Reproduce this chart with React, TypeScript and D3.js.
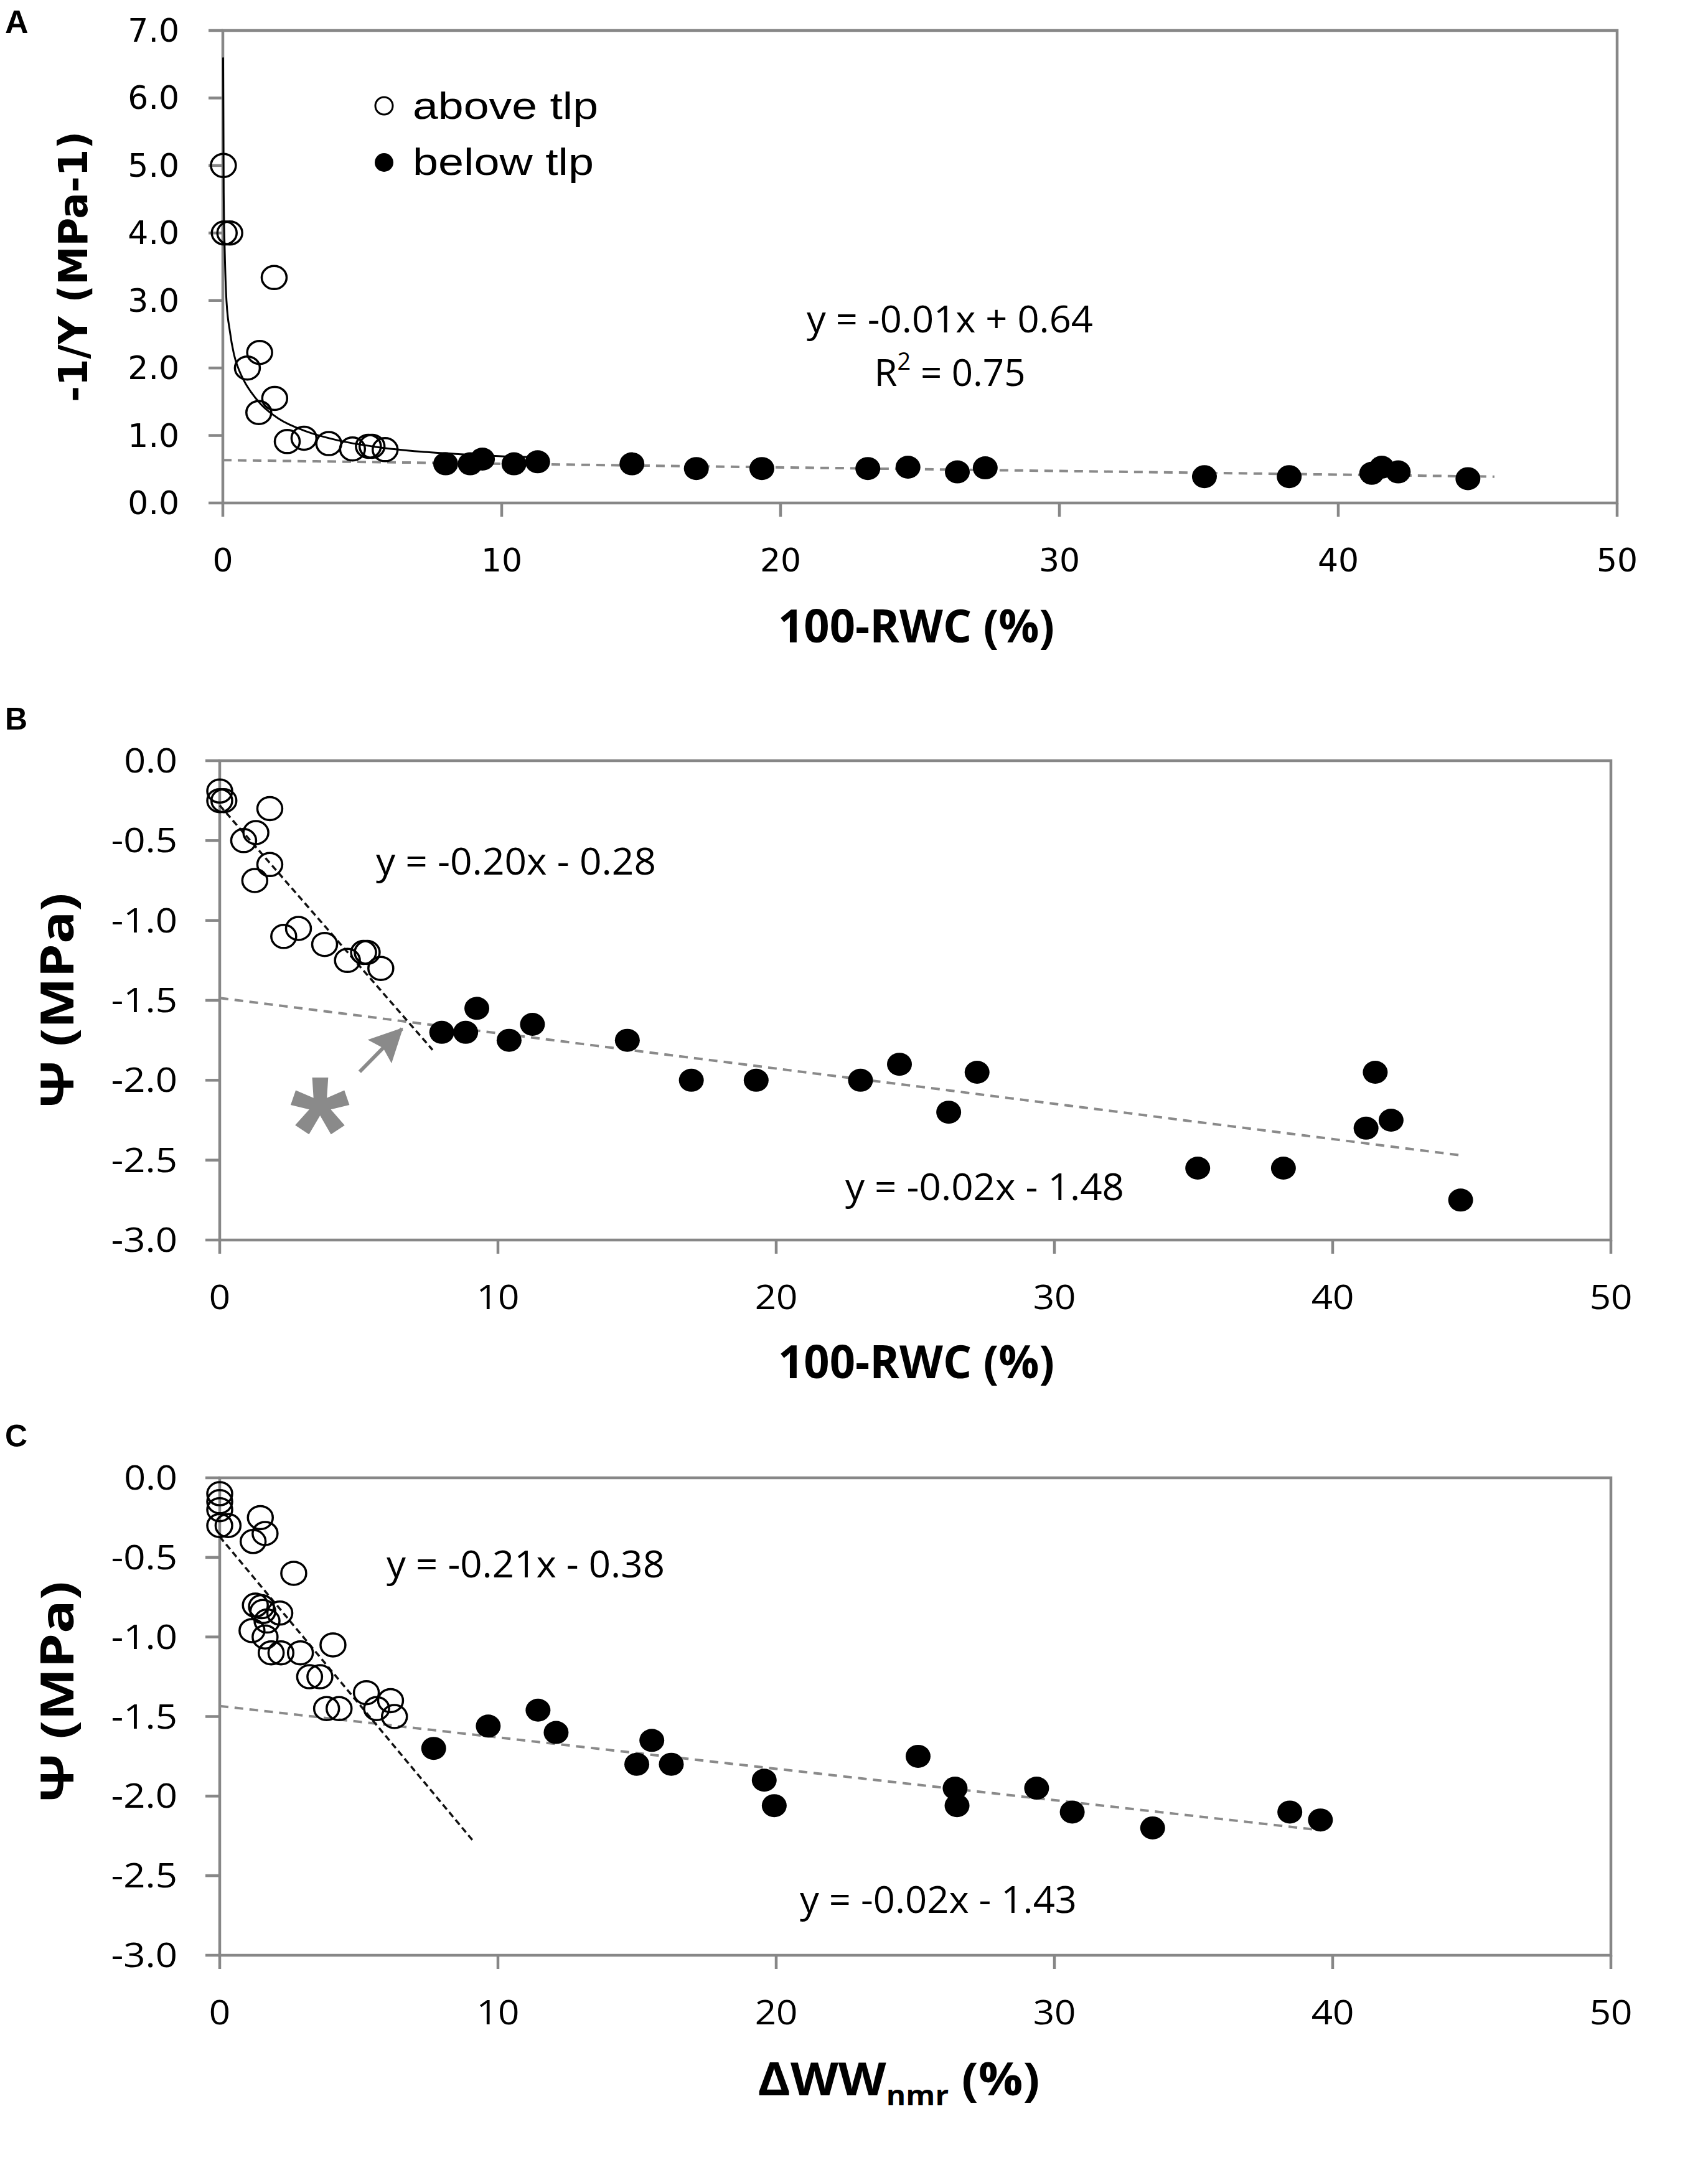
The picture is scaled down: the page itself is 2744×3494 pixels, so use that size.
import * as d3 from "d3";

type Pt = [number, number];
type Box = { l: number; r: number; t: number; b: number };

// ---- Panel A: -1/Y vs 100-RWC ----
const aboveA: Pt[] = [
  [0.02, 5.0], [0.05, 4.0], [0.25, 4.0], [1.84, 3.34], [1.32, 2.23],
  [0.88, 2.0], [1.86, 1.55], [1.29, 1.34], [2.31, 0.91], [2.91, 0.96],
  [3.8, 0.88], [4.65, 0.8], [5.22, 0.84], [5.35, 0.84], [5.82, 0.79],
];
const belowA: Pt[] = [
  [7.99, 0.58], [8.87, 0.58], [9.31, 0.65], [10.44, 0.58], [11.29, 0.61],
  [14.67, 0.58], [16.98, 0.51], [19.33, 0.51], [23.13, 0.51], [24.57, 0.53],
  [26.34, 0.46], [27.34, 0.52], [35.2, 0.39], [38.24, 0.39], [41.2, 0.44],
  [41.56, 0.53], [42.15, 0.46], [44.65, 0.36],
];
const curveA: Pt[] = [
  [0.01, 6.6], [0.03, 4.6], [0.07, 3.7], [0.13, 3.0], [0.25, 2.55],
  [0.4, 2.2], [0.6, 1.95], [0.8, 1.78], [1.0, 1.65], [1.37, 1.46],
  [2.0, 1.25], [3.0, 1.06], [4.1, 0.93], [5.5, 0.83], [7.1, 0.76],
  [8.65, 0.72], [10.1, 0.69], [11.0, 0.68],
];
const trendA: Pt[] = [[0, 0.635], [45.6, 0.39]];

// ---- Panel B: Psi vs 100-RWC ----
const aboveB: Pt[] = [
  [0.0, -0.19], [0.0, -0.25], [0.15, -0.25], [1.8, -0.3], [0.86, -0.5],
  [1.3, -0.45], [1.8, -0.65], [1.26, -0.75], [2.3, -1.1], [2.83, -1.05],
  [3.77, -1.15], [4.59, -1.25], [5.17, -1.2], [5.3, -1.2], [5.79, -1.3],
];
const belowB: Pt[] = [
  [7.98, -1.7], [8.84, -1.7], [9.24, -1.55], [10.4, -1.75], [11.24, -1.65],
  [14.65, -1.75], [16.95, -2.0], [19.28, -2.0], [23.03, -2.0], [24.43, -1.9],
  [26.2, -2.2], [27.22, -1.95], [35.15, -2.55], [38.23, -2.55], [41.2, -2.3],
  [41.53, -1.95], [42.1, -2.25], [44.6, -2.75],
];
const trendAboveB: Pt[] = [[0, -0.28], [7.65, -1.81]];
const trendBelowB: Pt[] = [[0, -1.485], [44.6, -2.47]];
const arrowB: Pt[] = [[5.03, -1.947], [6.55, -1.678]];
const starB: Pt = [3.6, -2.165];

// ---- Panel C: Psi vs dWW_nmr ----
const aboveC: Pt[] = [
  [0, -0.1], [0, -0.15], [0, -0.2], [0, -0.3], [0.3, -0.3],
  [1.46, -0.25], [1.2, -0.4], [1.63, -0.35], [2.66, -0.6], [1.28, -0.8],
  [1.5, -0.81], [1.55, -0.84], [2.16, -0.85], [1.7, -0.9], [1.16, -0.96],
  [1.63, -1.0], [1.85, -1.1], [2.2, -1.1], [2.9, -1.1], [4.07, -1.05],
  [3.23, -1.25], [3.6, -1.25], [3.84, -1.45], [4.29, -1.45], [5.27, -1.35],
  [5.64, -1.45], [6.14, -1.4], [6.28, -1.5],
];
const belowC: Pt[] = [
  [7.69, -1.7], [9.65, -1.56], [11.44, -1.46], [12.09, -1.6], [14.99, -1.8],
  [15.53, -1.65], [16.23, -1.8], [19.57, -1.9], [19.93, -2.06], [25.1, -1.75],
  [26.43, -1.95], [26.5, -2.06], [29.36, -1.95], [30.64, -2.1], [33.53, -2.2],
  [38.46, -2.1], [39.56, -2.15],
];
const trendAboveC: Pt[] = [[0, -0.37], [9.1, -2.28]];
const trendBelowC: Pt[] = [[0, -1.434], [39.6, -2.215]];

const xTicks = [0, 10, 20, 30, 40, 50];
const yTicksA = [0, 1, 2, 3, 4, 5, 6, 7];
const yTicksBC = [0, -0.5, -1, -1.5, -2, -2.5, -3];

const FRAME = "#878787";
const GREY = "#8a8a8a";
const CAL = "'Open Sans', sans-serif";

// rough Calibri advance widths (em) so the substitute font gets the same length
const CAL_W: Record<string, number> = {
  "0": 0.507, "1": 0.507, "2": 0.507, "3": 0.507, "4": 0.507, "5": 0.507,
  "6": 0.507, "7": 0.507, "8": 0.507, "9": 0.507, ".": 0.252, "-": 0.306, " ": 0.226,
};
const calWidth = (s: string) => [...s].reduce((a, c) => a + (CAL_W[c] ?? 0.5), 0);

function Frame({ box, x, y, yTicks }: { box: Box; x: any; y: any; yTicks: number[] }) {
  return (
    <g stroke={FRAME} strokeWidth={4.5}>
      <rect x={box.l} y={box.t} width={box.r - box.l} height={box.b - box.t} fill="none" />
      {xTicks.map((t) => (
        <line key={"x" + t} x1={x(t)} x2={x(t)} y1={box.b} y2={box.b + 22} />
      ))}
      {yTicks.map((t) => (
        <line key={"y" + t} x1={box.l - 23} x2={box.l} y1={y(t)} y2={y(t)} />
      ))}
    </g>
  );
}

function Points({ data, x, y, filled }: { data: Pt[]; x: any; y: any; filled: boolean }) {
  return (
    <g>
      {data.map((d, i) => (
        <ellipse
          key={i}
          cx={x(d[0])}
          cy={y(d[1])}
          rx={20}
          ry={18.5}
          fill={filled ? "#000" : "none"}
          stroke="#000"
          strokeWidth={filled ? 0 : 3.5}
        />
      ))}
    </g>
  );
}

function CalTicks({ box, x, y, yTicks }: { box: Box; x: any; y: any; yTicks: number[] }) {
  const fmt = d3.format(".1f");
  return (
    <g fontFamily={CAL} fontSize={54} fill="#000">
      {yTicks.map((t) => {
        const s = fmt(t).replace("−", "-");
        return (
          <text key={"y" + t} x={285} y={y(t) + 19} textAnchor="end"
            textLength={calWidth(s) * 60 * 1.13} lengthAdjust="spacingAndGlyphs">{s}</text>
        );
      })}
      {xTicks.map((t) => (
        <text key={"x" + t} x={x(t)} y={box.b + 111} textAnchor="middle"
          textLength={calWidth(String(t)) * 60 * 1.13} lengthAdjust="spacingAndGlyphs">{t}</text>
      ))}
    </g>
  );
}

export default function App() {
  const A: Box = { l: 358, r: 2598, t: 49, b: 808 };
  const B: Box = { l: 353, r: 2588, t: 1222, b: 1992 };
  const C: Box = { l: 353, r: 2588, t: 2374, b: 3141 };

  const xA = d3.scaleLinear().domain([0, 50]).range([A.l, A.r]);
  const yA = d3.scaleLinear().domain([0, 7]).range([A.b, A.t]);
  const xB = d3.scaleLinear().domain([0, 50]).range([B.l, B.r]);
  const yB = d3.scaleLinear().domain([-3, 0]).range([B.b, B.t]);
  const xC = d3.scaleLinear().domain([0, 50]).range([C.l, C.r]);
  const yC = d3.scaleLinear().domain([-3, 0]).range([C.b, C.t]);

  const lineOf = (x: any, y: any, curve = d3.curveLinear) =>
    d3.line<Pt>().x((d) => x(d[0])).y((d) => y(d[1])).curve(curve);

  const fmtA = d3.format(".1f");

  return (
    <div style={{ position: "absolute", left: 0, top: 0 }}>
      <svg width={2744} height={3494} viewBox="0 0 2744 3494" style={{ display: "block", background: "#fff" }}>
        <defs>
          <marker id="arrowhead" viewBox="0 0 10 10" refX={9.5} refY={5} markerWidth={54} markerHeight={54}
            markerUnits="userSpaceOnUse" orient="auto">
            <path d="M0,0 L10,5 L0,10 L1.5,5 z" fill={GREY} />
          </marker>
        </defs>
        <rect width={2744} height={3494} fill="#fff" />

        {/* ---------- Panel A ---------- */}
        <text x={8} y={53} fontFamily="'Liberation Sans', Arial, sans-serif" fontWeight="bold" fontSize={52}>A</text>
        <Frame box={A} x={xA} y={yA} yTicks={yTicksA} />
        <g fontFamily="'DejaVu Sans', Verdana, sans-serif" fontSize={52} fill="#000">
          {yTicksA.map((t) => (
            <text key={t} x={288} y={yA(t) + 18} textAnchor="end">{fmtA(t)}</text>
          ))}
          {xTicks.map((t) => (
            <text key={t} x={xA(t)} y={A.b + 110} textAnchor="middle">{t}</text>
          ))}
        </g>
        <path d={lineOf(xA, yA)(trendA) ?? ""} fill="none" stroke={GREY} strokeWidth={4} strokeDasharray="14 10" />
        <path d={lineOf(xA, yA, d3.curveMonotoneX)(curveA) ?? ""} fill="none" stroke="#000" strokeWidth={3} />
        <Points data={aboveA} x={xA} y={yA} filled={false} />
        <Points data={belowA} x={xA} y={yA} filled />
        {/* legend */}
        <ellipse cx={617} cy={170} rx={14} ry={14} fill="none" stroke="#000" strokeWidth={3} />
        <ellipse cx={617} cy={261} rx={15} ry={15} fill="#000" />
        <g fontFamily="'Liberation Sans', Arial, sans-serif" fontSize={62}>
          <text x={663} y={191} textLength={298} lengthAdjust="spacingAndGlyphs">above tlp</text>
          <text x={663} y={281} textLength={291} lengthAdjust="spacingAndGlyphs">below tlp</text>
        </g>
        <g fontFamily={CAL} fontSize={60} textAnchor="middle">
          <text x={1526} y={534} textLength={460} lengthAdjust="spacingAndGlyphs">y = -0.01x + 0.64</text>
          <text x={1526} y={620}>
            R<tspan fontSize={38} dy={-26}>2</tspan>
            <tspan dy={26}> = 0.75</tspan>
          </text>
        </g>
        <text x={1472} y={1032} textAnchor="middle" fontFamily={CAL} fontWeight="bold" fontSize={73}
          textLength={444} lengthAdjust="spacingAndGlyphs">100-RWC (%)</text>
        <text transform={`translate(140,${(A.t + A.b) / 2}) rotate(-90)`} textAnchor="middle"
          fontFamily="'DejaVu Sans', Verdana, sans-serif" fontWeight="bold" fontSize={64}
          textLength={435} lengthAdjust="spacingAndGlyphs">-1/Y (MPa-1)</text>

        {/* ---------- Panel B ---------- */}
        <text x={8} y={1172} fontFamily="'Liberation Sans', Arial, sans-serif" fontWeight="bold" fontSize={50}>B</text>
        <Frame box={B} x={xB} y={yB} yTicks={yTicksBC} />
        <CalTicks box={B} x={xB} y={yB} yTicks={yTicksBC} />
        <path d={lineOf(xB, yB)(trendBelowB) ?? ""} fill="none" stroke={GREY} strokeWidth={4} strokeDasharray="14 10" />
        <path d={lineOf(xB, yB)(trendAboveB) ?? ""} fill="none" stroke="#111" strokeWidth={3.5} strokeDasharray="10 6" />
        <Points data={aboveB} x={xB} y={yB} filled={false} />
        <Points data={belowB} x={xB} y={yB} filled />
        <path d={lineOf(xB, yB)(arrowB) ?? ""} fill="none" stroke={GREY} strokeWidth={6} markerEnd="url(#arrowhead)" />
        <text x={xB(starB[0])} y={yB(starB[1]) + 122} textAnchor="middle"
          fontFamily="'Liberation Sans', Arial, sans-serif" fontWeight="bold" fontSize={245} fill={GREY}>*</text>
        <g fontFamily={CAL} fontSize={60}>
          <text x={604} y={1405} textLength={450} lengthAdjust="spacingAndGlyphs">y = -0.20x - 0.28</text>
          <text x={1358} y={1928} textLength={448} lengthAdjust="spacingAndGlyphs">y = -0.02x - 1.48</text>
        </g>
        <text x={1472} y={2214} textAnchor="middle" fontFamily={CAL} fontWeight="bold" fontSize={73}
          textLength={444} lengthAdjust="spacingAndGlyphs">100-RWC (%)</text>
        <text transform={`translate(118,${(B.t + B.b) / 2}) rotate(-90)`} textAnchor="middle"
          fontFamily={CAL} fontWeight="bold" fontSize={73}
          textLength={345} lengthAdjust="spacingAndGlyphs">Ψ (MPa)</text>

        {/* ---------- Panel C ---------- */}
        <text x={8} y={2324} fontFamily="'Liberation Sans', Arial, sans-serif" fontWeight="bold" fontSize={50}>C</text>
        <Frame box={C} x={xC} y={yC} yTicks={yTicksBC} />
        <CalTicks box={C} x={xC} y={yC} yTicks={yTicksBC} />
        <path d={lineOf(xC, yC)(trendBelowC) ?? ""} fill="none" stroke={GREY} strokeWidth={4} strokeDasharray="14 10" />
        <path d={lineOf(xC, yC)(trendAboveC) ?? ""} fill="none" stroke="#111" strokeWidth={3.5} strokeDasharray="10 6" />
        <Points data={aboveC} x={xC} y={yC} filled={false} />
        <Points data={belowC} x={xC} y={yC} filled />
        <g fontFamily={CAL} fontSize={60}>
          <text x={621} y={2534} textLength={447} lengthAdjust="spacingAndGlyphs">y = -0.21x - 0.38</text>
          <text x={1285} y={3073} textLength={445} lengthAdjust="spacingAndGlyphs">y = -0.02x - 1.43</text>
        </g>
        <text transform={`translate(1444,3366) scale(1.09,1)`} textAnchor="middle"
          fontFamily={CAL} fontWeight="bold" fontSize={73}>
          ΔWW<tspan fontSize={44} dy={16}>nmr</tspan>
          <tspan dy={-16}> (%)</tspan>
        </text>
        <text transform={`translate(118,${(C.t + C.b) / 2 - 40}) rotate(-90)`} textAnchor="middle"
          fontFamily={CAL} fontWeight="bold" fontSize={73}
          textLength={355} lengthAdjust="spacingAndGlyphs">Ψ (MPa)</text>
      </svg>
    </div>
  );
}
